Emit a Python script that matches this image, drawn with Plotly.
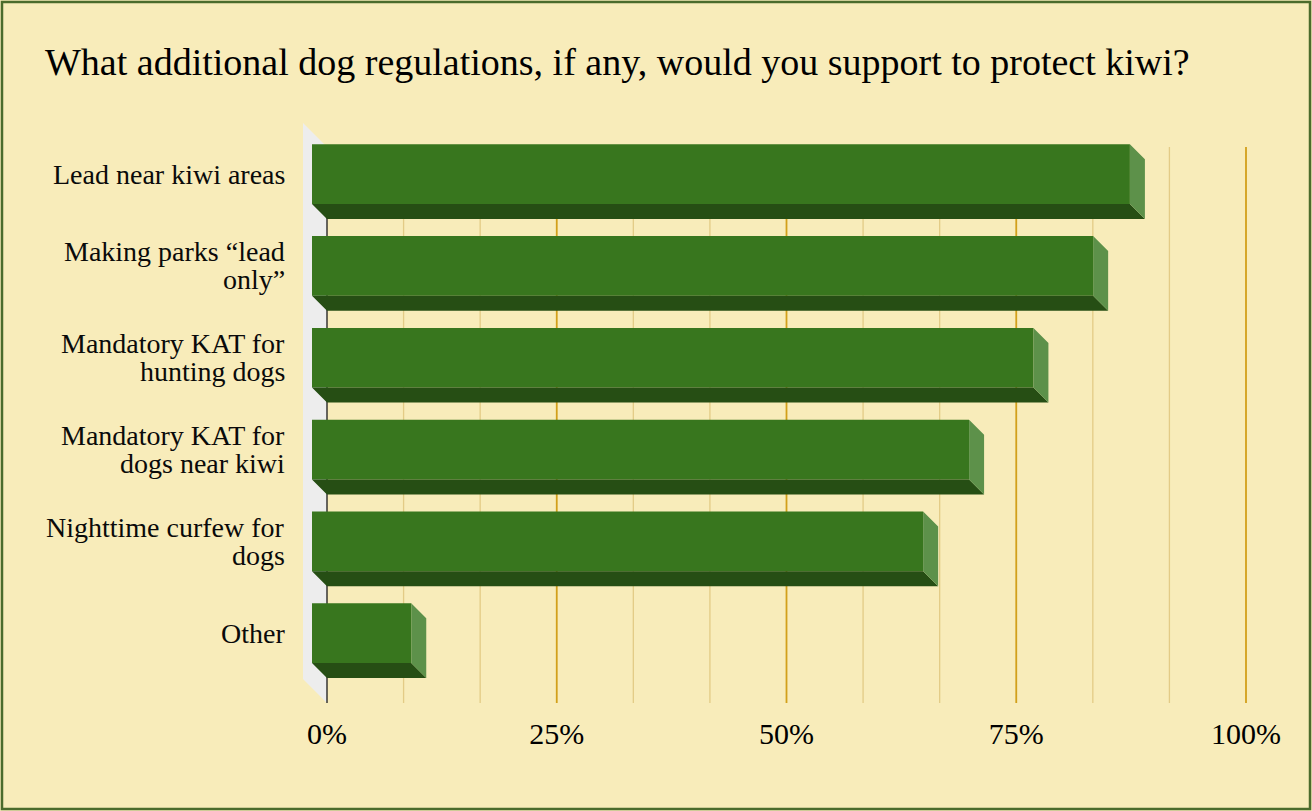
import plotly.graph_objects as go

# ---- data -------------------------------------------------------------
categories = [
    "Lead near kiwi areas",
    "Making parks “lead<br>only”",
    "Mandatory KAT for<br>hunting dogs",
    "Mandatory KAT for<br>dogs near kiwi",
    "Nighttime curfew for<br>dogs",
    "Other",
]
support_pct = [89, 85, 78.5, 71.5, 66.5, 10.8]
tick_vals = [0, 25, 50, 75, 100]
tick_text = ["0%", "25%", "50%", "75%", "100%"]

# ---- geometry ---------------------------------------------------------
W, H = 1312, 811
M_L, M_R, M_T, M_B = 295, 52, 115, 101
PX_PER_PCT = 9.19      # horizontal pixels per percentage point
PX_PER_ROW = 91.8      # vertical pixels per category row
ZERO_PX = 327          # pixel column of 0 %
ROW0_PX = 189.15       # pixel row of the first category (back plane)
PLANE_TOP_PX, PLANE_BOT_PX = 147, 703
plot_w = W - M_L - M_R
plot_h = H - M_T - M_B

x_lo = -(ZERO_PX - M_L) / PX_PER_PCT
x_hi = x_lo + plot_w / PX_PER_PCT
y_top = (M_T - ROW0_PX) / PX_PER_ROW
y_bot = (H - M_B - ROW0_PX) / PX_PER_ROW
plane_top = (PLANE_TOP_PX - ROW0_PX) / PX_PER_ROW
plane_bot = (PLANE_BOT_PX - ROW0_PX) / PX_PER_ROW

BAR_W = 0.65
DEPTH_PX = 15
dx = DEPTH_PX / PX_PER_PCT
dy = DEPTH_PX / PX_PER_ROW
WALL_PX = 24
wdx = WALL_PX / PX_PER_PCT
wdy = WALL_PX / PX_PER_ROW

BG = "#F8ECBA"
FRONT = "#38761E"
BOTTOM = "#264E14"
SIDE = "#5D914A"
SERIF = "Liberation Serif, Times New Roman, serif"

rows = list(range(len(categories)))

fig = go.Figure()

# bottom and right-hand faces of each 3D bar
bot_x, bot_y, side_x, side_y = [], [], [], []
for i, v in zip(rows, support_pct):
    fb = i - dy + BAR_W / 2   # front bottom edge
    bb = i + BAR_W / 2        # back bottom edge
    ft = i - dy - BAR_W / 2   # front top edge
    bt = i - BAR_W / 2        # back top edge
    bot_x += [-dx, v - dx, v, 0, -dx, None]
    bot_y += [fb, fb, bb, bb, fb, None]
    side_x += [v - dx, v, v, v - dx, v - dx, None]
    side_y += [ft, bt, bb, fb, ft, None]

# front faces
fig.add_trace(go.Bar(
    orientation="h",
    x=support_pct,
    base=[-dx] * len(rows),
    y=[i - dy for i in rows],
    width=BAR_W,
    marker=dict(color=FRONT, line=dict(width=0)),
    hoverinfo="skip",
))
fig.add_trace(go.Scatter(x=bot_x, y=bot_y, mode="lines", fill="toself",
                         fillcolor=BOTTOM, line=dict(width=0, color=BOTTOM),
                         hoverinfo="skip"))
fig.add_trace(go.Scatter(x=side_x, y=side_y, mode="lines", fill="toself",
                         fillcolor=SIDE, line=dict(width=0, color=SIDE),
                         hoverinfo="skip"))

shapes = []
# left wall of the chart box
shapes.append(dict(
    type="path", xref="x", yref="y", layer="below",
    path=f"M {-wdx} {plane_top - wdy} L 0 {plane_top} L 0 {plane_bot} "
         f"L {-wdx} {plane_bot - wdy} Z",
    fillcolor="#EDEDED", line=dict(width=0),
))
# minor gridlines
for k in range(1, 12):
    if k % 3:
        xv = k * 100 / 12
        shapes.append(dict(type="line", xref="x", yref="y", layer="below",
                           x0=xv, x1=xv, y0=plane_top, y1=plane_bot,
                           line=dict(color="#E3CB86", width=1.3)))
# major gridlines
for xv in tick_vals[1:]:
    shapes.append(dict(type="line", xref="x", yref="y", layer="below",
                       x0=xv, x1=xv, y0=plane_top, y1=plane_bot,
                       line=dict(color="#D2A01A", width=1.8)))
# value axis baseline
shapes.append(dict(type="line", xref="x", yref="y", layer="below",
                   x0=0, x1=0, y0=plane_top, y1=plane_bot,
                   line=dict(color="#1A1A1A", width=1.3)))
# outer frame
shapes.append(dict(type="rect", xref="paper", yref="paper", layer="above",
                   x0=(2 - M_L) / plot_w, x1=(W - 2 - M_L) / plot_w,
                   y0=(H - M_B - (H - 2)) / plot_h, y1=(H - M_B - 2) / plot_h,
                   line=dict(color="#4B6B2C", width=2.5)))

# category labels, one annotation per text line
annotations = []
LABEL_RIGHT_PX = 287
LINE_GAP = 28
for i, label in zip(rows, categories):
    lines = label.split("<br>")
    n = len(lines)
    for k, line in enumerate(lines):
        annotations.append(dict(
            text=line, xref="paper", yref="y",
            x=(LABEL_RIGHT_PX - M_L) / plot_w, y=i - dy,
            xanchor="right", yanchor="middle",
            yshift=((n - 1) / 2 - k) * LINE_GAP,
            showarrow=False,
            font=dict(family=SERIF, size=28, color="#0A0A0A"),
        ))

fig.update_layout(
    width=W, height=H,
    margin=dict(l=M_L, r=M_R, t=M_T, b=M_B, pad=0),
    paper_bgcolor=BG, plot_bgcolor=BG,
    showlegend=False, hovermode=False,
    title=dict(
        text="What additional dog regulations, if any, would you support to protect kiwi?",
        x=45 / W, xanchor="left", xref="container",
        y=1 - 62 / H, yanchor="middle", yref="container",
        font=dict(family=SERIF, size=38, color="#000000"),
    ),
    xaxis=dict(range=[x_lo, x_hi], tickvals=tick_vals, ticktext=tick_text,
               showgrid=False, zeroline=False, showline=False, ticks="",
               ticklabelstandoff=3,
               tickfont=dict(family=SERIF, size=30, color="#000000"),
               fixedrange=True),
    yaxis=dict(range=[y_bot, y_top], showgrid=False, zeroline=False,
               showline=False, showticklabels=False, ticks="", fixedrange=True),
    shapes=shapes,
    annotations=annotations,
)

fig.write_html("out.html")
